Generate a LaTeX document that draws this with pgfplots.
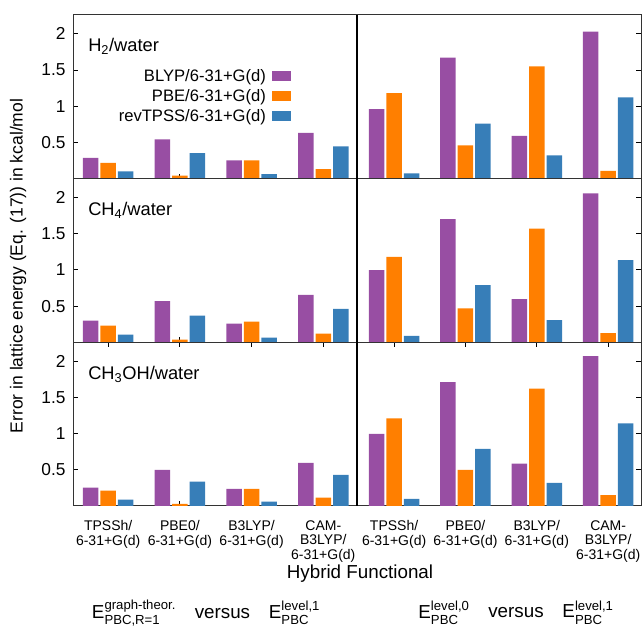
\documentclass[border=0pt]{standalone}
\usepackage{fontspec}
\setmainfont{Liberation Sans}
\usepackage{amsmath}
\usepackage{pgfplots}
\usepackage{pgfplotstable}
\pgfplotsset{compat=1.18}
\definecolor{cpurple}{HTML}{984EA3}
\definecolor{corange}{HTML}{FF7F00}
\definecolor{cblue}{HTML}{377EB8}

\pgfplotstableread{
x blyp pbe revtpss
0 0.285 0.216 0.100
1 0.540 0.040 0.350
2 0.250 0.250 0.060
3 0.630 0.130 0.445
}\hL
\pgfplotstableread{
x blyp pbe revtpss
0 0.960 1.180 0.073
1 1.670 0.460 0.760
2 0.590 1.550 0.320
3 2.030 0.105 1.120
}\hR
\pgfplotstableread{
x blyp pbe revtpss
0 0.300 0.230 0.105
1 0.570 0.037 0.367
2 0.257 0.284 0.064
3 0.656 0.120 0.463
}\mL
\pgfplotstableread{
x blyp pbe revtpss
0 0.995 1.180 0.087
1 1.700 0.470 0.790
2 0.596 1.570 0.307
3 2.055 0.128 1.133
}\mR
\pgfplotstableread{
x blyp pbe revtpss
0 0.253 0.212 0.088
1 0.500 0.028 0.336
2 0.235 0.235 0.060
3 0.594 0.115 0.430
}\oL
\pgfplotstableread{
x blyp pbe revtpss
0 0.995 1.210 0.097
1 1.710 0.500 0.790
2 0.585 1.620 0.320
3 2.070 0.150 1.140
}\oR

\newcommand{\tickfont}{\fontsize{17.3bp}{19bp}\selectfont}
\newcommand{\legfont}{\fontsize{16.6bp}{19bp}\selectfont}
\pgfplotsset{
  panel/.style={
    scale only axis, width=284bp, height=163.7bp,
    ymin=0, ymax=2.26,
    ybar=2bp, bar width=15.5bp,
    xtick={0,1,2,3}, xticklabels={},
    ytick={0.5,1,1.5,2},
    tick align=inside, major tick length=5bp,
    tick style={black, line width=0.8bp},
    axis line style={black!80, line width=1bp},
    xtick pos=bottom,
    ticklabel style={font=\tickfont},
    /pgf/number format/assume math mode=true,
    enlargelimits=false,
    anchor=south west,
  },
  leftpanel/.style={panel, xmin=-0.49, xmax=3.47, ytick pos=left,
    yticklabel style={xshift=-4bp}},
  rightpanel/.style={panel, xmin=-0.52, xmax=3.46, ytick pos=right, yticklabels={}},
  bottomrow/.style={xtick pos=both, xticklabel pos=bottom,
    xticklabels={{TPSSh/\\6-31+G(d)},{PBE0/\\6-31+G(d)},{B3LYP/\\6-31+G(d)},{CAM-\\B3LYP/\\6-31+G(d)}},
    xticklabel style={align=center, font=\fontsize{14bp}{14.5bp}\selectfont, yshift=-11bp}},
}
\newcommand{\threebars}[1]{%
  \addplot[fill=cpurple, draw=none] table[x=x, y=blyp]{#1};
  \addplot[fill=corange, draw=none] table[x=x, y=pbe]{#1};
  \addplot[fill=cblue, draw=none] table[x=x, y=revtpss]{#1};
}
\newcommand{\panellabel}[1]{\node[anchor=west, font=\fontsize{18.3bp}{20bp}\selectfont, inner sep=0pt] at (rel axis cs:0.053,0.805) {#1};}

\begin{document}
\begin{tikzpicture}
\useasboundingbox (0,0) rectangle (644bp,626bp);
% row 1
\begin{axis}[leftpanel, at={(73bp,447.4bp)},
  legend style={draw=none, fill=none, at={(0.768,0.672)}, anchor=north east,
    font=\legfont, row sep=4.5bp, inner sep=0pt, nodes={inner xsep=6bp, inner ysep=1bp}},
  legend cell align=right, legend plot pos=right,
  legend image code/.code={\fill[#1] (6bp,-4bp) rectangle (25bp,6bp);}]
\threebars{\hL}
\legend{BLYP/6-31+G(d),PBE/6-31+G(d),revTPSS/6-31+G(d)}
\panellabel{H\textsubscript{2}/water}
\end{axis}
\begin{axis}[rightpanel, at={(357bp,447.4bp)}]
\threebars{\hR}
\end{axis}
% row 2
\begin{axis}[leftpanel, at={(73bp,283.7bp)}]
\threebars{\mL}
\panellabel{CH\textsubscript{4}/water}
\end{axis}
\begin{axis}[rightpanel, at={(357bp,283.7bp)}]
\threebars{\mR}
\end{axis}
% row 3
\begin{axis}[leftpanel, bottomrow, at={(73bp,120bp)}]
\threebars{\oL}
\panellabel{CH\textsubscript{3}OH/water}
\end{axis}
\begin{axis}[rightpanel, bottomrow, at={(357bp,120bp)}]
\threebars{\oR}
\end{axis}
\draw[black, line width=2.4bp] (357bp,120bp) -- (357bp,611.1bp);
\node[rotate=90, font=\fontsize{17.5bp}{19bp}\selectfont] at (18bp,360bp) {Error in lattice energy (Eq. (17)) in kcal/mol};
\node[font=\fontsize{18.8bp}{20bp}\selectfont] at (360bp,52bp) {Hybrid Functional};
\node[anchor=base, font=\fontsize{18.8bp}{20bp}\selectfont] at (206bp,8bp)
  {E$^{\text{graph-theor.}}_{\text{PBC,R=1}}$\hspace{1.0em}versus\hspace{1.0em}E$^{\text{level,1}}_{\text{PBC}}$};
\node[anchor=base, font=\fontsize{18.8bp}{20bp}\selectfont] at (516bp,8bp)
  {E$^{\text{level,0}}_{\text{PBC}}$\hspace{1.0em}versus\hspace{1.0em}E$^{\text{level,1}}_{\text{PBC}}$};
\end{tikzpicture}
\end{document}
